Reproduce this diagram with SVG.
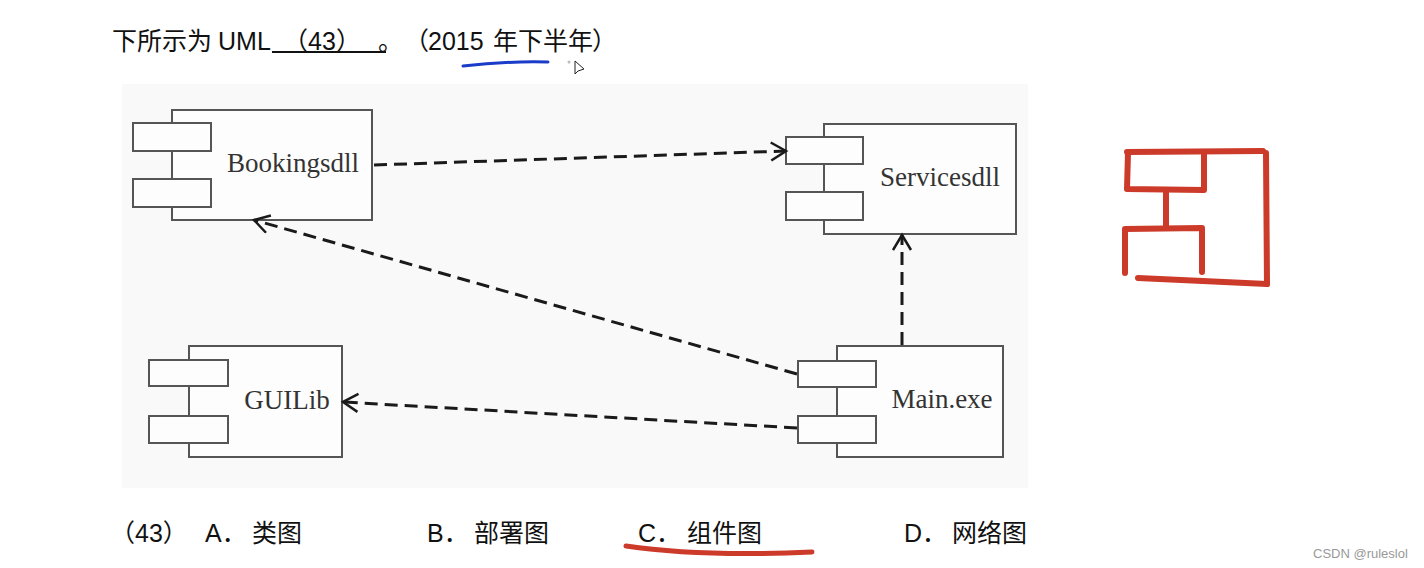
<svg xmlns="http://www.w3.org/2000/svg" width="1424" height="568" viewBox="0 0 1424 568">
<style>
.t{font-family:"Liberation Sans","Noto Sans CJK SC",sans-serif;fill:#111;}
.h{font-size:25px;}
.lbl{font-family:"Liberation Serif","DejaVu Serif",serif;font-size:27px;fill:#333;text-anchor:middle;}
.box{fill:#fdfdfd;stroke:#555;stroke-width:2;}
.port{fill:#fdfdfd;stroke:#555;stroke-width:2;}
.dep{fill:none;stroke:#1a1a1a;stroke-width:3;stroke-dasharray:13 7;marker-end:url(#open);}
.red{fill:none;stroke:#cc3a2a;stroke-width:6;stroke-linecap:round;stroke-linejoin:round;}
</style>
<defs>
<marker id="open" markerUnits="userSpaceOnUse" markerWidth="22" markerHeight="22" refX="16" refY="10" orient="auto">
<path d="M1,1 L16,10 L1,19" fill="none" stroke="#1a1a1a" stroke-width="2.5" stroke-dasharray="none"/>
</marker>
</defs>
<rect width="1424" height="568" fill="#ffffff"/>
<rect x="122" y="84" width="906" height="404" fill="#f9f9f9"/>

<g id="title">
<text class="t h" x="112" y="50">下所示为</text>
<text class="t h" x="218" y="50">UML</text>
<text class="t h" x="322" y="50" text-anchor="middle">（43）</text>
<line x1="272" y1="52" x2="386" y2="52" stroke="#111" stroke-width="2"/>
<text class="t h" x="378" y="50">。</text>
<text class="t h" x="404" y="50">（</text>
<text class="t h" x="428" y="50">2015</text>
<text class="t h" x="493" y="50">年下半年</text>
<text class="t h" x="592" y="50">）</text>
<path d="M463,66 Q505,61 548,62" fill="none" stroke="#1a3cc8" stroke-width="3" stroke-linecap="round"/>
<circle cx="569" cy="62" r="1.5" fill="#bbb"/>
<path d="M575,61 L575,74 L578,71 L584,69 Z" fill="#fff" stroke="#222" stroke-width="1"/>
</g>

<g id="Bookingsdll">
<rect class="box" x="172" y="110" width="200" height="110"/>
<rect class="port" x="133" y="123" width="78" height="28"/>
<rect class="port" x="133" y="179" width="78" height="28"/>
<text class="lbl" x="293" y="172">Bookingsdll</text>
</g>

<g id="Servicesdll">
<rect class="box" x="824" y="124" width="192" height="110"/>
<rect class="port" x="786" y="137" width="77" height="27"/>
<rect class="port" x="786" y="192" width="77" height="28"/>
<text class="lbl" x="940" y="186">Servicesdll</text>
</g>

<g id="GUILib">
<rect class="box" x="189" y="346" width="153" height="111"/>
<rect class="port" x="149" y="360" width="79" height="26"/>
<rect class="port" x="149" y="416" width="79" height="27"/>
<text class="lbl" x="287" y="409">GUILib</text>
</g>

<g id="Main.exe">
<rect class="box" x="837" y="346" width="166" height="111"/>
<rect class="port" x="798" y="361" width="78" height="26"/>
<rect class="port" x="798" y="416" width="78" height="27"/>
<text class="lbl" x="942" y="408">Main.exe</text>
</g>

<g id="connectors">
<line class="dep" x1="374" y1="165" x2="786" y2="151"/>
<line class="dep" x1="797" y1="374" x2="254" y2="220"/>
<line class="dep" x1="902" y1="345" x2="902" y2="235"/>
<line class="dep" x1="797" y1="428" x2="343" y2="402"/>
</g>

<g id="red-icon">
<path class="red" d="M1127,152 L1263,151"/>
<path class="red" d="M1266,153 L1267,284"/>
<path class="red" d="M1138,278 L1267,284"/>
<path class="red" d="M1128,153 L1127,189 L1204,190 L1204,152"/>
<path class="red" d="M1166,190 L1166,228"/>
<path class="red" d="M1125,273 L1125,229 L1202,228 L1202,272"/>
</g>

<g id="options">
<text class="t" x="110" y="542" font-size="25">（43）</text>
<text class="t" x="205" y="542" font-size="25">A．</text>
<text class="t" x="252" y="542" font-size="25">类图</text>
<text class="t" x="427" y="542" font-size="25">B．</text>
<text class="t" x="474" y="542" font-size="25">部署图</text>
<text class="t" x="638" y="542" font-size="25">C．</text>
<text class="t" x="687" y="542" font-size="25">组件图</text>
<text class="t" x="904" y="542" font-size="25">D．</text>
<text class="t" x="952" y="542" font-size="25">网络图</text>
<path d="M626,546 Q700,557 812,552" fill="none" stroke="#cc3a2a" stroke-width="5" stroke-linecap="round"/>
</g>

<text x="1313" y="558" font-family="Liberation Sans,sans-serif" font-size="13" fill="#999">CSDN @ruleslol</text>
</svg>
